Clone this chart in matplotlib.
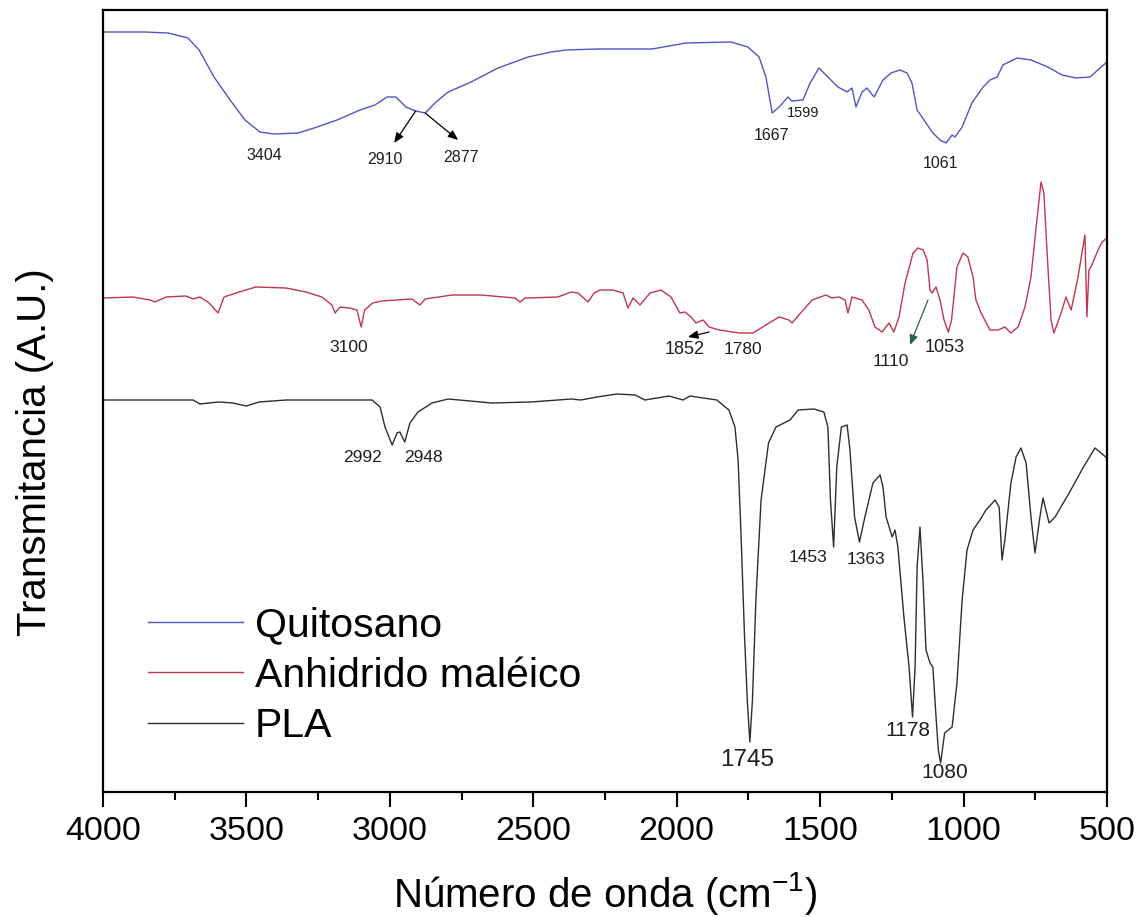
import matplotlib
matplotlib.use("Agg")
import matplotlib.pyplot as plt
from matplotlib.ticker import MultipleLocator

plt.rcParams['font.family'] = ['Liberation Sans', 'DejaVu Sans']
plt.rcParams['mathtext.fontset'] = 'custom'
plt.rcParams['mathtext.rm'] = 'Liberation Sans'
plt.rcParams['mathtext.it'] = 'Liberation Sans'

# FTIR spectra: wavenumber (cm-1) and offset transmittance (arbitrary units)
quitosano_wn = [4000, 3854, 3773, 3704, 3665, 3613, 3557, 3505, 3453, 3404,
                3320, 3264, 3184, 3104, 3052, 3010, 2979, 2944, 2910, 2877,
                2839, 2797, 2717, 2623, 2518, 2438, 2386, 2278, 2086, 1968,
                1811, 1752, 1713, 1689, 1677, 1667, 1643, 1612, 1599, 1560,
                1535, 1504, 1473, 1438, 1406, 1389, 1375, 1354, 1337, 1312,
                1281, 1253, 1222, 1197, 1180, 1162, 1145, 1131, 1107, 1082,
                1061, 1040, 1030, 1005, 971, 932, 908, 883, 863, 814,
                765, 706, 657, 608, 559, 524, 500]
quitosano_t = [7.58, 7.58, 7.57, 7.52, 7.40, 7.13, 6.90, 6.70, 6.58, 6.56,
               6.57, 6.62, 6.70, 6.80, 6.85, 6.93, 6.93, 6.83, 6.79, 6.77,
               6.88, 6.98, 7.08, 7.22, 7.33, 7.38, 7.40, 7.41, 7.41, 7.47,
               7.48, 7.43, 7.33, 7.13, 6.93, 6.77, 6.83, 6.93, 6.89, 6.90,
               7.07, 7.22, 7.13, 7.03, 6.98, 7.02, 6.83, 6.98, 7.02, 6.93,
               7.10, 7.17, 7.20, 7.17, 7.07, 6.80, 6.73, 6.67, 6.57, 6.50,
               6.47, 6.55, 6.53, 6.63, 6.87, 7.03, 7.10, 7.13, 7.25, 7.32,
               7.30, 7.23, 7.15, 7.12, 7.13, 7.22, 7.28]

anhidrido_wn = [4000, 3895, 3836, 3819, 3780, 3711, 3686, 3662, 3630, 3599,
                3578, 3526, 3467, 3362, 3292, 3237, 3202, 3191, 3174, 3140,
                3115, 3100, 3088, 3060, 3027, 2923, 2895, 2877, 2783, 2682,
                2564, 2546, 2529, 2414, 2368, 2344, 2309, 2288, 2267, 2222,
                2187, 2170, 2152, 2128, 2093, 2055, 2020, 1989, 1971, 1950,
                1933, 1908, 1887, 1852, 1780, 1734, 1689, 1643, 1609, 1598,
                1574, 1528, 1480, 1459, 1434, 1413, 1403, 1389, 1354, 1330,
                1309, 1284, 1260, 1243, 1225, 1204, 1176, 1159, 1141, 1127,
                1117, 1110, 1096, 1082, 1068, 1053, 1042, 1023, 1002, 985,
                967, 957, 939, 908, 880, 856, 835, 810, 786, 765,
                747, 730, 720, 706, 695, 685, 660, 643, 625, 601,
                577, 570, 563, 556, 531, 517, 500]
anhidrido_t = [4.92, 4.93, 4.90, 4.88, 4.93, 4.94, 4.91, 4.93, 4.87, 4.77,
               4.93, 4.98, 5.03, 5.02, 4.98, 4.93, 4.85, 4.77, 4.83, 4.82,
               4.80, 4.63, 4.80, 4.87, 4.89, 4.91, 4.85, 4.91, 4.95, 4.95,
               4.92, 4.88, 4.92, 4.93, 4.98, 4.97, 4.88, 4.97, 5.00, 5.00,
               4.97, 4.82, 4.92, 4.85, 4.97, 5.00, 4.93, 4.77, 4.78, 4.73,
               4.67, 4.70, 4.63, 4.60, 4.57, 4.57, 4.65, 4.73, 4.70, 4.67,
               4.75, 4.90, 4.95, 4.92, 4.93, 4.90, 4.77, 4.93, 4.90, 4.80,
               4.63, 4.58, 4.67, 4.58, 4.73, 5.07, 5.37, 5.42, 5.40, 5.30,
               5.00, 4.97, 5.03, 4.90, 4.70, 4.58, 4.70, 5.23, 5.37, 5.33,
               5.13, 4.90, 4.77, 4.60, 4.60, 4.63, 4.57, 4.63, 4.83, 5.13,
               5.63, 6.08, 5.97, 5.23, 4.70, 4.57, 4.77, 4.93, 4.80, 5.13,
               5.55, 4.73, 5.20, 5.23, 5.40, 5.48, 5.52]

pla_wn = [4000, 3686, 3662, 3630, 3596, 3547, 3501, 3456, 3362, 3062,
          3034, 3017, 2992, 2975, 2965, 2948, 2930, 2902, 2853, 2797,
          2682, 2647, 2508, 2368, 2334, 2278, 2208, 2145, 2111, 2027,
          1978, 1954, 1860, 1818, 1797, 1786, 1776, 1764, 1754, 1745,
          1736, 1724, 1706, 1680, 1654, 1605, 1577, 1521, 1487, 1473,
          1464, 1453, 1442, 1426, 1406, 1396, 1380, 1363, 1344, 1316,
          1291, 1281, 1270, 1249, 1239, 1229, 1208, 1190, 1178, 1169,
          1162, 1152, 1141, 1131, 1117, 1107, 1096, 1088, 1080, 1066,
          1040, 1023, 1005, 988, 967, 943, 922, 890, 876, 866,
          856, 835, 817, 800, 782, 765, 751, 734, 723, 702,
          681, 632, 584, 542, 500]
pla_t = [3.90, 3.90, 3.86, 3.87, 3.88, 3.87, 3.84, 3.88, 3.90, 3.90,
         3.83, 3.63, 3.45, 3.57, 3.58, 3.48, 3.67, 3.78, 3.87, 3.91,
         3.88, 3.87, 3.88, 3.91, 3.90, 3.93, 3.96, 3.95, 3.90, 3.94,
         3.90, 3.94, 3.90, 3.80, 3.63, 3.30, 2.57, 1.57, 0.90, 0.48,
         0.90, 1.90, 2.90, 3.47, 3.63, 3.70, 3.80, 3.81, 3.78, 3.63,
         2.90, 2.43, 3.23, 3.63, 3.65, 3.40, 2.73, 2.48, 2.73, 3.07,
         3.15, 3.03, 2.73, 2.53, 2.60, 2.43, 1.73, 1.23, 0.73, 1.23,
         2.23, 2.63, 2.07, 1.40, 1.27, 1.23, 0.73, 0.40, 0.27, 0.57,
         0.63, 1.07, 1.90, 2.40, 2.60, 2.70, 2.80, 2.90, 2.83, 2.30,
         2.50, 3.07, 3.33, 3.42, 3.27, 2.73, 2.37, 2.73, 2.92, 2.67,
         2.73, 2.97, 3.22, 3.42, 3.32]

series_names = ["Quitosano", "Anhidrido maléico", "PLA"]
x_ticks = [4000, 3500, 3000, 2500, 2000, 1500, 1000, 500]

# Band labels: (text, wavenumber, transmittance, font size)
band_labels = [
    ("3404", 3439, 6.35, 11.5), ("2910", 3017, 6.30, 11.5),
    ("2877", 2752, 6.32, 11.5), ("1667", 1671, 6.55, 11.5),
    ("1599", 1560, 6.77, 10.5), ("1061", 1079, 6.27, 11.5),
    ("3100", 3142, 4.43, 12.5), ("1852", 1971, 4.40, 13),
    ("1780", 1769, 4.41, 12.5), ("1110", 1253, 4.28, 12.5),
    ("1053", 1065, 4.42, 13),
    ("2992", 3097, 3.32, 12.5), ("2948", 2884, 3.32, 12.5),
    ("1453", 1542, 2.33, 12.5), ("1363", 1340, 2.31, 12.5),
    ("1745", 1755, 0.30, 17.5), ("1178", 1194, 0.60, 15),
    ("1080", 1065, 0.17, 15),
]

# Arrows: (tail wavenumber, tail T, head wavenumber, head T, line colour)
band_arrows = [
    (2910, 6.79, 2985, 6.47, "black"),
    (2877, 6.77, 2762, 6.50, "black"),
    (1887, 4.58, 1961, 4.53, "black"),
    (1124, 4.90, 1187, 4.45, "#2f5f50"),
]

fig = plt.figure(figsize=(11.41, 9.17), dpi=100)
ax = fig.add_axes([103 / 1141, 1 - 792 / 917, 1004 / 1141, 782 / 917])

ax.plot(quitosano_wn, quitosano_t, color="#5353c6", lw=1.0, label=series_names[0])
ax.plot(anhidrido_wn, anhidrido_t, color="#c03552", lw=1.0, label=series_names[1])
ax.plot(pla_wn, pla_t, color="#2e2e2e", lw=1.0, label=series_names[2])

for txt, wn, t, fs in band_labels:
    ax.text(wn, t, txt, ha="center", va="center", fontsize=fs, color="#1e1e1e")

for w0, t0, w1, t1, col in band_arrows:
    ax.annotate("", xy=(w1, t1), xytext=(w0, t0),
                arrowprops=dict(arrowstyle="-|>,head_length=0.6,head_width=0.25",
                                color=col, lw=0.9, shrinkA=0, shrinkB=0))

ax.set_xlim(4000, 500)
ax.set_ylim(-0.02, 7.80)
ax.set_xticks(x_ticks)
ax.xaxis.set_minor_locator(MultipleLocator(250))
ax.set_yticks([])

for sp in ax.spines.values():
    sp.set_linewidth(1.6)
ax.tick_params(axis="x", which="major", direction="out", length=11, width=1.5,
               labelsize=24.5, pad=6, top=False)
ax.tick_params(axis="x", which="minor", direction="out", length=6, width=1.5, top=False)

ax.set_xlabel("Número de onda (cm$^{-1}$)", fontsize=29)
ax.xaxis.set_label_coords(0.5, -0.100)
ax.set_ylabel("Transmitancia (A.U.)", fontsize=29)
ax.yaxis.set_label_coords(-0.049, 0.435)

leg = ax.legend(loc="upper left", bbox_to_anchor=(0.0448, 0.238), frameon=False,
                fontsize=29.5, handlelength=2.32, handletextpad=0.29,
                labelspacing=0.31, borderpad=0, borderaxespad=0)

fig.savefig("out.png", dpi=100, facecolor="white")
